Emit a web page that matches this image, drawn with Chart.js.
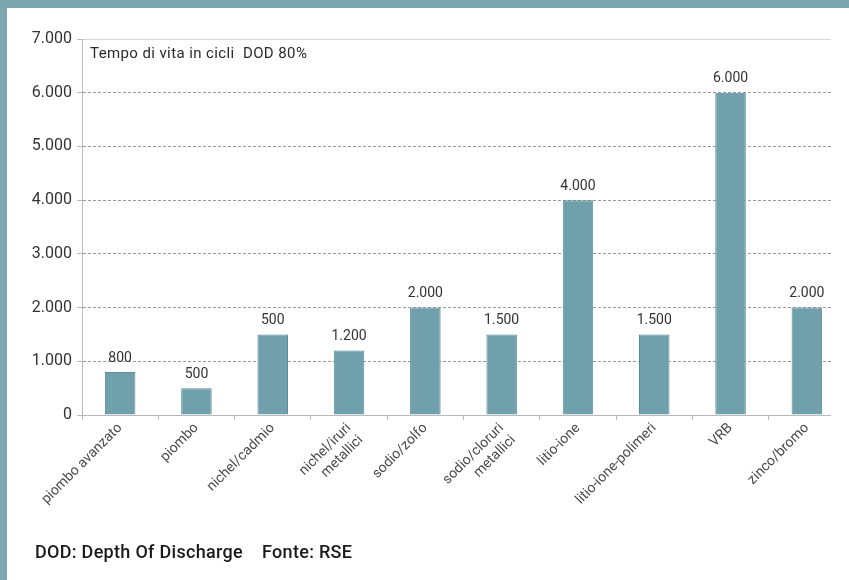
<!DOCTYPE html>
<html>
<head>
<meta charset="utf-8">
<script src="https://cdn.jsdelivr.net/npm/chart.js@4/dist/chart.umd.min.js"></script>
<style>
  html, body { margin: 0; padding: 0; background: #ffffff; }
  body { width: 849px; height: 580px; position: relative; overflow: hidden; font-family: Roboto, "Liberation Sans", sans-serif; }
  #topbar { position: absolute; left: 0; top: 0; width: 849px; height: 8px; background: #7ca7b0; }
  #leftbar { position: absolute; left: 0; top: 0; width: 7px; height: 580px; background: #7ca7b0; }
  #wrap { position: absolute; left: 0; top: 0; width: 849px; height: 580px; }
  #note { position: absolute; left: 90px; top: 44px; font-size: 15px; letter-spacing: 0.4px; color: #2a2a2a; white-space: pre; }
  #footer { position: absolute; left: 35px; top: 541px; font-size: 18px; letter-spacing: 0.3px; font-weight: 500; color: #1a1a1a; white-space: pre; }
</style>
</head>
<body>
<div id="wrap"><canvas id="c" width="849" height="580"></canvas></div>
<div id="topbar"></div>
<div id="leftbar"></div>
<div id="note">Tempo di vita in cicli  DOD 80%</div>
<div id="footer">DOD: Depth Of Discharge    Fonte: RSE</div>
<script>
const categories = [
  'piombo avanzato', 'piombo', 'nichel/cadmio', ['nichel/iruri', 'metallici'], 'sodio/zolfo',
  ['sodio/cloruri', 'metallici'], 'litio-ione', 'litio-ione-polimeri', 'VRB', 'zinco/bromo'
];
const cycles = [800, 500, 1500, 1200, 2000, 1500, 4000, 1500, 6000, 2000];
const valueLabels = ['800', '500', '500', '1.200', '2.000', '1.500', '4.000', '1.500', '6.000', '2.000'];
const yTickLabels = ['0', '1.000', '2.000', '3.000', '4.000', '5.000', '6.000', '7.000'];

const valueLabelPlugin = {
  id: 'valueLabels',
  beforeDatasetsDraw(chart) {
    const ctx = chart.ctx, a = chart.chartArea;
    ctx.save();
    ctx.fillStyle = '#ffffff';
    ctx.fillRect(831, a.top - 2, chart.width - 831, a.bottom - a.top + 10);
    ctx.restore();
  },
  afterDatasetsDraw(chart) {
    const ctx = chart.ctx;
    const meta = chart.getDatasetMeta(0);
    ctx.save();
    ctx.font = '14px Roboto, "Liberation Sans", sans-serif';
    ctx.fillStyle = '#333333';
    ctx.textAlign = 'center';
    ctx.textBaseline = 'bottom';
    meta.data.forEach((bar, i) => {
      ctx.fillText(valueLabels[i], bar.x, bar.y - 7);
    });
    ctx.restore();
  }
};

new Chart(document.getElementById('c'), {
  type: 'bar',
  data: {
    labels: categories,
    datasets: [{
      data: cycles,
      backgroundColor: '#6fa0ac',
      borderColor: '#5b8c98',
      borderWidth: 1,
      borderSkipped: 'bottom',
      categoryPercentage: 1,
      barPercentage: 0.4
    }]
  },
  options: {
    responsive: false,
    animation: false,
    devicePixelRatio: 1,
    layout: { padding: { left: 0, top: 39, right: 4, bottom: 0 } },
    plugins: { legend: { display: false }, tooltip: { enabled: false }, title: { display: false } },
    scales: {
      x: {
        afterFit(s) { s.height = 165; },
        grid: { drawOnChartArea: false, drawTicks: true, tickLength: 5, color: '#b8b8b8', offset: true },
        border: { display: true, color: '#b8b8b8', width: 1 },
        ticks: {
          minRotation: 45, maxRotation: 45, padding: 0,
          autoSkip: false,
          color: '#4a4a4a',
          font: { family: 'Roboto, "Liberation Sans", sans-serif', size: 14, lineHeight: 1.2 }
        }
      },
      y: {
        min: 0, max: 7000,
        afterFit(s) { s.width = 82; },
        afterBuildTicks(s) { s.ticks = yTickLabels.map((t, i) => ({ value: i * 1000 })); },
        grid: {
          drawTicks: true, tickLength: 5,
          color: (c) => (c.tick && c.tick.value === 7000) ? '#d6d6d6' : '#9a9a9a',
          tickColor: '#b8b8b8'
        },
        border: {
          display: true, color: '#b8b8b8', width: 1,
          dash: (c) => (c.tick && c.tick.value > 0 && c.tick.value < 7000) ? [3, 2] : []
        },
        ticks: {
          padding: 5,
          color: '#333333',
          font: { family: 'Roboto, "Liberation Sans", sans-serif', size: 16 },
          callback: (v) => yTickLabels[Math.round(v / 1000)]
        }
      }
    }
  },
  plugins: [valueLabelPlugin]
});
</script>
</body>
</html>
